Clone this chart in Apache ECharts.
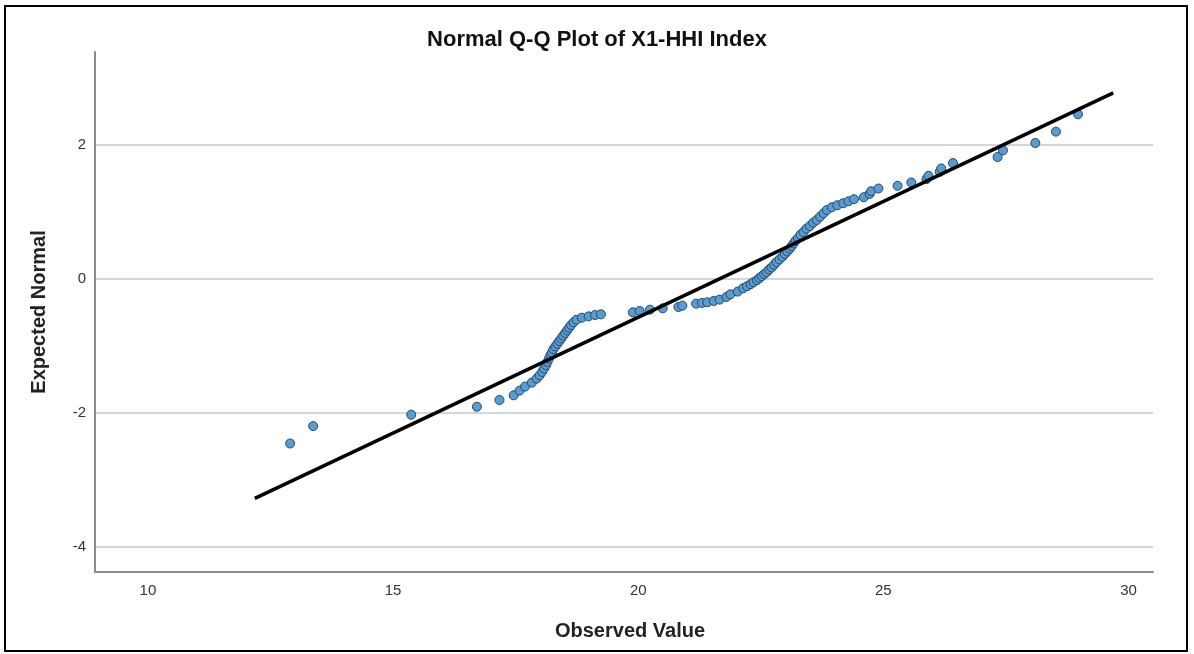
<!DOCTYPE html>
<html>
<head>
<meta charset="utf-8">
<script src="https://cdn.jsdelivr.net/npm/echarts@6/dist/echarts.min.js"></script>
<style>
  html, body { margin: 0; padding: 0; background: #fff; }
  #frame { position: absolute; left: 4px; top: 5px; width: 1184px; height: 647px; border: 2px solid #000; box-sizing: border-box; }
  #chart { position: absolute; left: 0; top: 0; width: 1194px; height: 654px; }
</style>
</head>
<body>
<div id="chart"></div>
<div id="frame"></div>
<script>
const observed = [
  12.90, 13.37, 15.37, 16.71, 17.17, 17.46, 17.58, 17.69, 17.83, 17.93,
  17.99, 18.04, 18.08, 18.12, 18.15, 18.18, 18.21, 18.24, 18.27, 18.31,
  18.35, 18.39, 18.43, 18.47, 18.51, 18.55, 18.59, 18.63, 18.68, 18.74,
  18.85, 18.99, 19.12, 19.24, 19.89, 20.03, 20.24, 20.50, 20.82, 20.90,
  21.18, 21.30, 21.41, 21.54, 21.66, 21.80, 21.88, 22.03, 22.14, 22.22,
  22.29, 22.35, 22.42, 22.47, 22.52, 22.57, 22.62, 22.67, 22.72, 22.77,
  22.82, 22.88, 22.94, 22.99, 23.04, 23.09, 23.13, 23.17, 23.21, 23.26,
  23.31, 23.37, 23.43, 23.50, 23.57, 23.64, 23.71, 23.78, 23.85, 23.95,
  24.06, 24.18, 24.29, 24.40, 24.60, 24.72, 24.75, 24.90, 25.29, 25.57,
  25.88, 25.92, 26.15, 26.18, 26.42, 27.33, 27.44, 28.10, 28.52, 28.97
];
const expected = [
  -2.46, -2.20, -2.03, -1.91, -1.81, -1.74, -1.67, -1.61, -1.55, -1.49,
  -1.44, -1.39, -1.34, -1.29, -1.24, -1.19, -1.14, -1.10, -1.05, -1.01,
  -0.97, -0.93, -0.89, -0.85, -0.81, -0.77, -0.73, -0.69, -0.65, -0.61,
  -0.58, -0.56, -0.54, -0.53, -0.50, -0.48, -0.46, -0.44, -0.42, -0.40,
  -0.37, -0.36, -0.35, -0.33, -0.31, -0.27, -0.23, -0.19, -0.14, -0.11,
  -0.08, -0.05, -0.02, 0.01, 0.04, 0.07, 0.10, 0.14, 0.17, 0.21,
  0.25, 0.29, 0.33, 0.37, 0.41, 0.45, 0.49, 0.53, 0.57, 0.61,
  0.66, 0.70, 0.75, 0.79, 0.84, 0.88, 0.93, 0.98, 1.03, 1.07,
  1.10, 1.13, 1.16, 1.19, 1.22, 1.27, 1.31, 1.35, 1.39, 1.44,
  1.49, 1.54, 1.60, 1.65, 1.73, 1.82, 1.92, 2.03, 2.20, 2.46
];
const lineStart = [12.18, -3.28];
const lineEnd = [29.69, 2.78];
const xTicks = [10, 15, 20, 25, 30];
const yTicks = [-4, -2, 0, 2];

const points = observed.map((x, i) => [x, expected[i]]);

const chart = echarts.init(document.getElementById('chart'), null, { renderer: 'canvas' });
chart.setOption({
  animation: false,
  backgroundColor: '#fff',
  title: {
    text: 'Normal Q-Q Plot of X1-HHI Index',
    left: 'center',
    top: 24,
    textStyle: { fontFamily: 'Liberation Sans, Arial, sans-serif', fontSize: 22, fontWeight: 'bold', color: '#111' }
  },
  grid: { left: 95, top: 52, right: 41, bottom: 82, containLabel: false },
  xAxis: {
    type: 'value',
    min: 8.92,
    max: 30.5,
    name: 'Observed Value',
    nameLocation: 'middle',
    nameGap: 49,
    nameTextStyle: { fontFamily: 'Liberation Sans, Arial, sans-serif', fontSize: 20, fontWeight: 'bold', color: '#222', padding: [0, 0, 0, 12] },
    axisLine: { show: true, onZero: false, lineStyle: { color: '#8a8a8a', width: 2 } },
    axisTick: { show: false, customValues: xTicks },
    axisLabel: { customValues: xTicks, margin: 11, fontFamily: 'Liberation Sans, Arial, sans-serif', fontSize: 15, color: '#333' },
    splitLine: { show: false }
  },
  yAxis: {
    type: 'value',
    min: -4.38,
    max: 3.39,
    name: 'Expected Normal',
    nameLocation: 'middle',
    nameGap: 46,
    nameRotate: 90,
    nameTextStyle: { fontFamily: 'Liberation Sans, Arial, sans-serif', fontSize: 20, fontWeight: 'bold', color: '#222' },
    axisLine: { show: true, onZero: false, lineStyle: { color: '#8a8a8a', width: 2 } },
    axisTick: { show: false, customValues: yTicks },
    axisLabel: { customValues: yTicks, margin: 9, fontFamily: 'Liberation Sans, Arial, sans-serif', fontSize: 15, color: '#333' },
    splitLine: { show: true, lineStyle: { color: '#c9c9c9', width: 1.5 } }
  },
  series: [
    {
      type: 'scatter',
      data: points,
      symbol: 'circle',
      symbolSize: 9,
      itemStyle: { color: '#5a9bd0', borderColor: '#1e4a70', borderWidth: 1, opacity: 1 },
      z: 2
    },
    {
      type: 'line',
      data: [lineStart, lineEnd],
      symbol: 'none',
      lineStyle: { color: '#000', width: 3.5 },
      z: 3
    }
  ]
});
</script>
</body>
</html>
